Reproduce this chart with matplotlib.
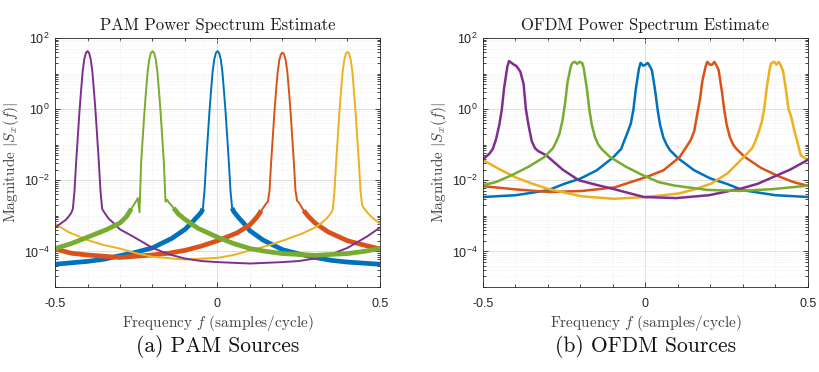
import numpy as np
import matplotlib
matplotlib.use("Agg")
import matplotlib.pyplot as plt
from matplotlib.ticker import FixedLocator, FixedFormatter

plt.rcParams['font.family'] = ['Liberation Sans', 'DejaVu Sans']
plt.rcParams['mathtext.fontset'] = 'cm'

# MATLAB default colour order
colors = ['#0072BD', '#D95319', '#EDB120', '#7E2F8E', '#77AC30']

# ---- PAM: log10 magnitude vs. offset from each source's centre frequency
pam_centers = [0.0, 0.2, 0.4, -0.4, -0.2]
pam_off = [-0.5, -0.4, -0.35, -0.3, -0.25, -0.2, -0.14, -0.1, -0.08, -0.065,
           -0.05, -0.045, -0.04, -0.035, -0.03, -0.025, -0.02, -0.015, -0.01, -0.005,
           0.0, 0.005, 0.01, 0.015, 0.02, 0.025, 0.03, 0.035, 0.04, 0.045,
           0.05, 0.065, 0.08, 0.1, 0.14, 0.2, 0.25, 0.3, 0.35, 0.4]
pam_blue = [-4.36, -4.28, -4.22, -4.12, -4.02, -3.9, -3.63, -3.38, -3.2, -3.05,
            -2.9, -2.8, -2.3, -1.5, -0.8, -0.1, 0.5, 1.05, 1.4, 1.58,
            1.63, 1.58, 1.4, 1.05, 0.5, -0.1, -0.8, -1.5, -2.3, -2.78,
            -2.88, -3.05, -3.2, -3.42, -3.68, -3.95, -4.07, -4.17, -4.25, -4.3]
pam_orange = [-4.17, -4.1, -4.05, -3.97, -3.85, -3.7, -3.48, -3.25, -3.05, -2.85,
              -2.65, -2.6, -2.3, -1.5, -0.8, -0.1, 0.5, 1.03, 1.37, 1.54,
              1.59, 1.54, 1.37, 1.03, 0.5, -0.1, -0.8, -1.5, -2.3, -2.58,
              -2.62, -2.85, -3.02, -3.2, -3.45, -3.7, -3.82, -3.93, -4.05, -4.1]
pam_yellow = [-4.23, -4.18, -4.1, -3.97, -3.85, -3.7, -3.5, -3.33, -3.2, -3.08,
              -2.92, -2.8, -2.3, -1.5, -0.8, -0.1, 0.5, 1.05, 1.38, 1.56,
              1.61, 1.56, 1.38, 1.05, 0.5, -0.1, -0.8, -1.5, -2.3, -2.7,
              -2.78, -2.95, -3.08, -3.22, -3.45, -3.68, -3.82, -3.92, -4.05, -4.15]
pam_purple = [-4.34, -4.3, -4.27, -4.2, -4.08, -3.9, -3.58, -3.33, -3.2, -3.1,
              -2.92, -2.8, -2.3, -1.5, -0.8, -0.1, 0.5, 1.05, 1.4, 1.58,
              1.63, 1.58, 1.4, 1.05, 0.5, -0.1, -0.8, -1.5, -2.3, -2.8,
              -2.88, -3.08, -3.2, -3.38, -3.58, -3.9, -4.08, -4.2, -4.27, -4.3]
pam_green = [-4.11, -4.06, -4.0, -3.92, -3.78, -3.6, -3.38, -3.2, -3.02, -2.8,
             -2.58, -2.5, -2.9, -1.5, -0.8, -0.1, 0.5, 1.05, 1.4, 1.58,
             1.63, 1.58, 1.4, 1.05, 0.5, -0.1, -0.8, -1.5, -2.6, -2.55,
             -2.62, -2.78, -2.95, -3.1, -3.35, -3.6, -3.78, -3.92, -4.0, -4.06]
pam_vals = [pam_blue, pam_orange, pam_yellow, pam_purple, pam_green]
pam_noisy = [True, True, False, False, True]

# ---- OFDM
ofdm_centers = [0.0, 0.205, 0.403, -0.405, -0.21]
ofdm_off = [-0.5, -0.4, -0.3, -0.25, -0.2, -0.15, -0.1, -0.075, -0.065, -0.055,
            -0.045, -0.037, -0.03, -0.02, -0.015, -0.007, 0.0, 0.007, 0.015, 0.02,
            0.03, 0.037, 0.045, 0.055, 0.065, 0.075, 0.1, 0.15, 0.2, 0.25,
            0.3, 0.4]
ofdm_blue = [-2.47, -2.42, -2.28, -2.1, -1.95, -1.72, -1.36, -1.12, -0.88, -0.65,
             -0.4, 0.0, 0.55, 1.15, 1.3, 1.22, 1.25, 1.3, 1.18, 1.08,
             0.5, 0.0, -0.45, -0.8, -1.0, -1.15, -1.38, -1.72, -1.95, -2.1,
             -2.28, -2.42]
ofdm_orange = [-2.33, -2.3, -2.2, -2.05, -1.9, -1.72, -1.35, -1.0, -0.85, -0.62,
               -0.1, 0.3, 0.8, 1.2, 1.33, 1.25, 1.25, 1.33, 1.2, 1.1,
               0.5, 0.0, -0.45, -0.8, -1.0, -1.12, -1.34, -1.65, -1.87, -2.05,
               -2.17, -2.26]
ofdm_yellow = [-2.52, -2.47, -2.37, -2.25, -2.09, -1.8, -1.34, -1.1, -0.9, -0.65,
               -0.35, 0.05, 0.6, 1.18, 1.3, 1.33, 1.25, 1.33, 1.2, 1.08,
               0.5, 0.0, -0.2, -0.6, -0.95, -1.3, -1.45, -1.7, -1.93, -2.1,
               -2.25, -2.45]
ofdm_purple = [-2.5, -2.42, -2.23, -2.1, -1.9, -1.7, -1.45, -1.25, -1.12, -0.85,
               -0.45, 0.0, 0.6, 1.2, 1.35, 1.3, 1.25, 1.22, 1.12, 1.05,
               0.7, 0.0, -0.45, -0.9, -1.1, -1.18, -1.3, -1.7, -2.0, -2.12,
               -2.23, -2.47]
ofdm_green = [-2.3, -2.25, -2.16, -2.05, -1.85, -1.62, -1.34, -1.1, -0.92, -0.7,
              -0.3, 0.2, 0.75, 1.2, 1.3, 1.33, 1.27, 1.33, 1.3, 1.15,
              0.55, 0.0, -0.45, -0.8, -1.0, -1.12, -1.34, -1.62, -1.85, -2.05,
              -2.15, -2.27]
ofdm_vals = [ofdm_blue, ofdm_orange, ofdm_yellow, ofdm_purple, ofdm_green]

titles = ['PAM Power Spectrum Estimate', 'OFDM Power Spectrum Estimate']
captions = ['(a) PAM Sources', '(b) OFDM Sources']
xtick_vals = [-0.5, 0, 0.5]
xtick_labels = ['-0.5', '0', '0.5']
ytick_vals = [1e-4, 1e-2, 1e0, 1e2]
ytick_labels = [r'$\mathregular{10^{-4}}$', r'$\mathregular{10^{-2}}$',
                r'$\mathregular{10^{0}}$', r'$\mathregular{10^{2}}$']


def periodic(center, off, logval):
    # spectrum is periodic in f with period 1 -> repeat one period each side
    off = np.asarray(off)
    f = np.concatenate([center + off + k for k in (-1, 0, 1)])
    m = np.tile(np.asarray(logval), 3)
    idx = np.argsort(f)
    return f[idx], 10.0 ** m[idx]


W, H = 820, 372
fig = plt.figure(figsize=(8.2, 3.72), dpi=100)
lefts = [55, 483]
axes = []
for left in lefts:
    ax = fig.add_axes([left / W, 1 - 287 / H, 325 / W, 249 / H])
    axes.append(ax)

serif = 'cmr10'
for i, ax in enumerate(axes):
    ax.set_yscale('log')
    ax.set_xlim(-0.5, 0.5)
    ax.set_ylim(1e-5, 1e2)
    ax.xaxis.set_major_locator(FixedLocator(xtick_vals))
    ax.xaxis.set_major_formatter(FixedFormatter(xtick_labels))
    ax.xaxis.set_minor_locator(FixedLocator(np.arange(-0.4, 0.45, 0.1)))
    ax.yaxis.set_major_locator(FixedLocator(ytick_vals))
    ax.yaxis.set_major_formatter(FixedFormatter(ytick_labels))
    minors = [k * 10.0 ** e for e in range(-5, 2) for k in range(1, 10)
              if k * 10.0 ** e not in ytick_vals]
    ax.yaxis.set_minor_locator(FixedLocator(minors))
    ax.yaxis.set_minor_formatter(FixedFormatter([''] * len(minors)))
    ax.tick_params(which='both', direction='in', top=True, right=True,
                   colors='#262626', labelsize=9, width=0.6)
    ax.tick_params(which='major', length=3.5)
    ax.tick_params(which='minor', length=2)
    ax.tick_params(axis='x', pad=8)
    ax.tick_params(axis='y', pad=4)
    ax.grid(which='major', color='#dedede', lw=0.7)
    ax.grid(which='minor', color='#e8e8e8', lw=0.5, ls=':')
    ax.set_axisbelow(True)
    for s in ax.spines.values():
        s.set_color('#262626')
        s.set_linewidth(0.6)
    ax.set_title(titles[i], family=serif, fontsize=12, color='#1a1a1a', pad=6)
    ax.set_xlabel(r'Frequency $f$ (samples/cycle)', family=serif, fontsize=11,
                  color='#444444')
    ax.xaxis.set_label_coords(0.5, -0.105)
    ax.set_ylabel(r'Magnitude $|S_x(f)|$', family=serif, fontsize=11,
                  color='#444444')
    ax.yaxis.set_label_coords(-0.104, 0.5)
    fig.text((lefts[i] + 162.5) / W, 1 - 346 / H, captions[i], family=serif,
             fontsize=15.5, ha='center', va='center', color='#111111')

# PAM panel
ax = axes[0]
for c, vals, col, noisy in zip(pam_centers, pam_vals, colors, pam_noisy):
    f, m = periodic(c, pam_off, vals)
    ax.plot(f, m, color=col, lw=1.4, solid_joinstyle='round')
    if noisy:
        ax.plot(f, np.where(m < 10 ** -2.7, m, np.nan), color=col, lw=3.4,
                solid_capstyle='butt')

# OFDM panel
ax = axes[1]
for c, vals, col in zip(ofdm_centers, ofdm_vals, colors):
    f, m = periodic(c, ofdm_off, vals)
    ax.plot(f, m, color=col, lw=1.8, solid_joinstyle='round')

fig.savefig('out.png', dpi=100)
